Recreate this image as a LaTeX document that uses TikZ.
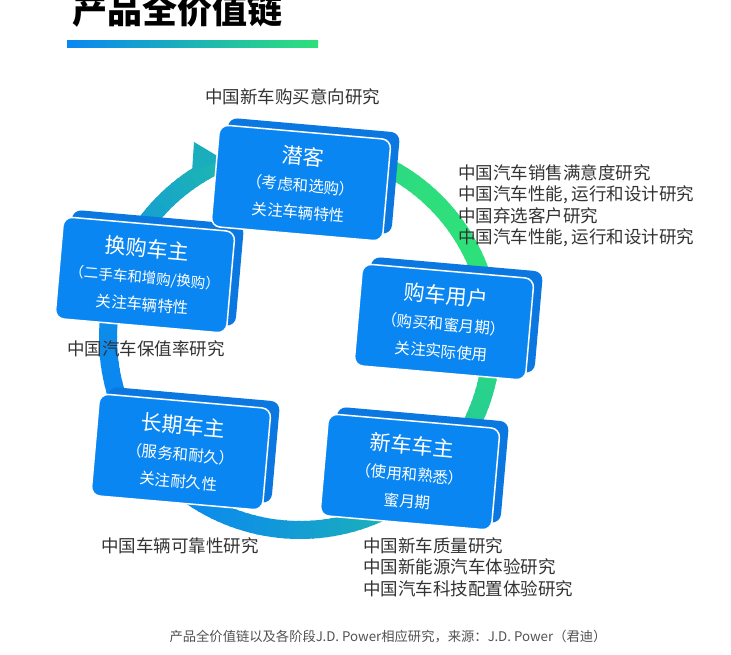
\documentclass[tikz,border=0pt]{standalone}
\usepackage{fontspec}
\setmainfont{Noto Sans CJK SC}
\usetikzlibrary{shapes.geometric}
\definecolor{bx}{HTML}{0A86F2}
\definecolor{bxd}{HTML}{0A78E0}
\definecolor{gr}{HTML}{2EE07A}
\definecolor{tx}{HTML}{333333}
\begin{document}
\begin{tikzpicture}[x=1pt,y=-1pt,
 front/.style={fill=bx,draw=white,line width=1.5pt,rounded corners=9pt,minimum width=172pt,minimum height=102pt,rotate=-5,text=white,align=center,font=\fontsize{15.5}{27}\selectfont},
 back/.style={fill=bxd,rounded corners=9pt,minimum width=172pt,minimum height=102pt,rotate=-5},
 lab/.style={text=tx,font=\fontsize{17.5}{21.5}\selectfont,align=left,anchor=north west,inner sep=0pt}]
\useasboundingbox (0,0) rectangle (731,655);
\fill[white] (0,0) rectangle (731,655);
\node[anchor=base west,inner sep=0pt,font=\fontsize{35}{35}\bfseries\selectfont] (title) at (72,24) {产品全价值链};
\shade[left color=bx,right color=gr] (67,41) rectangle (318,48);
\foreach \a in {0,2,...,358}{
 \pgfmathsetmacro{\t}{(1+cos(\a-330))/2*100}
 \colorlet{rc}{gr!\t!bx}
 \draw[rc,line width=18pt] (300,338) ++(\a:192) arc[start angle=\a,end angle=\a+2.6,radius=192];
}
\fill[gr!45!bx] (194,142) -- (224,160) -- (192,172) -- cycle;
\foreach \n/\x/\y in {a/301/183,b/444/322,c/410/472,d/181/452,e/145/275}{
 \node[back] at (\x+9,\y-7) {};
}
\node[front] (a) at (301,183) {{\fontsize{21}{24}\selectfont 潜客}\\（考虑和选购）\\关注车辆特性};
\node[front] (b) at (444,322) {{\fontsize{21}{24}\selectfont 购车用户}\\（购买和蜜月期）\\关注实际使用};
\node[front] (c) at (410,472) {{\fontsize{21}{24}\selectfont 新车车主}\\（使用和熟悉）\\蜜月期};
\node[front] (d) at (181,452) {{\fontsize{21}{24}\selectfont 长期车主}\\（服务和耐久）\\关注耐久性};
\node[front] (e) at (145,275) {{\fontsize{21}{24}\selectfont 换购车主}\\{\fontsize{14.5}{27}\selectfont（二手车和增购/换购）}\\关注车辆特性};
\node[lab] (l1) at (205,88) {中国新车购买意向研究};
\node[lab] (l2) at (458,164) {中国汽车销售满意度研究\\中国汽车性能, 运行和设计研究\\中国弃选客户研究\\中国汽车性能, 运行和设计研究};
\node[lab] (l3) at (67,340) {中国汽车保值率研究};
\node[lab] (l4) at (101,537) {中国车辆可靠性研究};
\node[lab] (l5) at (363,537) {中国新车质量研究\\中国新能源汽车体验研究\\中国汽车科技配置体验研究};
\node[text=tx!85,font=\fontsize{13.3}{16}\itshape\selectfont,inner sep=0pt] (src) at (388,637) {产品全价值链以及各阶段J.D. Power相应研究，来源：J.D. Power（君迪）};
\end{tikzpicture}
\end{document}
